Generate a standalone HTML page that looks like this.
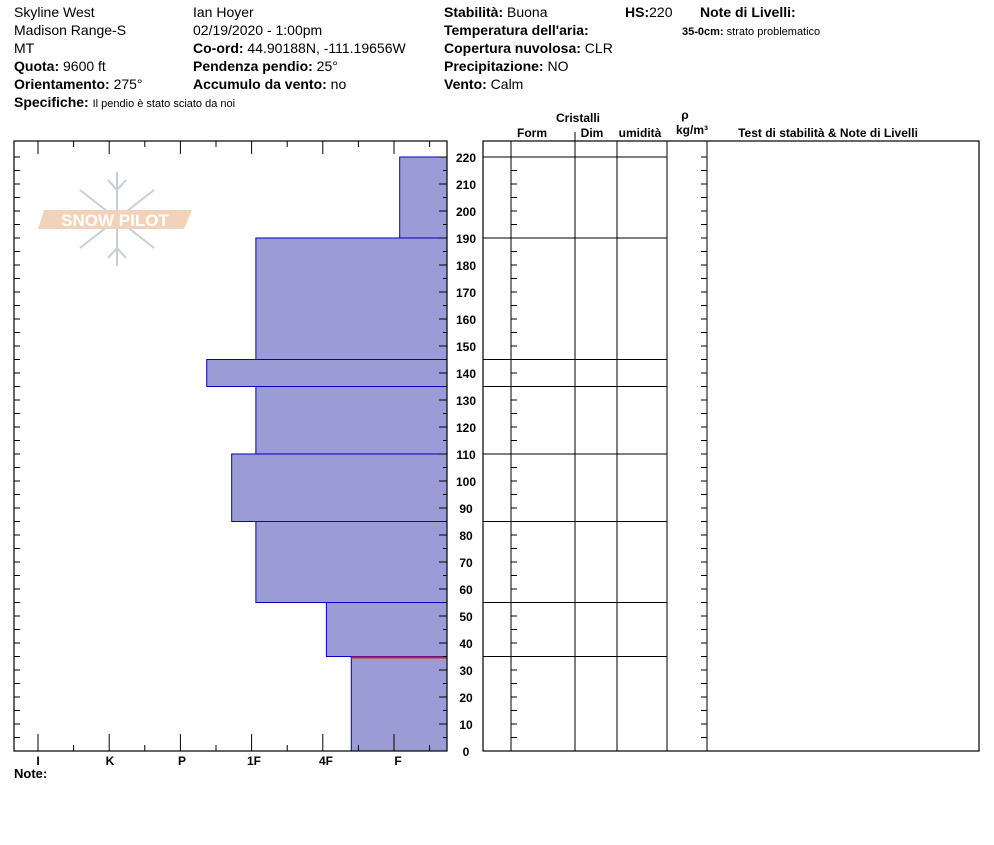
<!DOCTYPE html>
<html><head><meta charset="utf-8"><style>
body{margin:0;background:#fff;width:994px;height:840px;overflow:hidden;font-family:"Liberation Sans",Arial,sans-serif}
svg text{font-family:"Liberation Sans",Arial,sans-serif}
</style></head><body>
<svg id="c" width="994" height="840" viewBox="0 0 994 840">
<g font-size="14" fill="#000">
<text x="14" y="17">Skyline West</text>
<text x="14" y="35">Madison Range-S</text>
<text x="14" y="53">MT</text>
<text x="14" y="71"><tspan font-weight="bold">Quota:</tspan> 9600 ft</text>
<text x="14" y="89"><tspan font-weight="bold">Orientamento:</tspan> 275°</text>
<text x="14" y="107"><tspan font-weight="bold">Specifiche:</tspan> <tspan font-size="11">Il pendio è stato sciato da noi</tspan></text>
<text x="193" y="17">Ian Hoyer</text>
<text x="193" y="35">02/19/2020 - 1:00pm</text>
<text x="193" y="53"><tspan font-weight="bold">Co-ord:</tspan> 44.90188N, -111.19656W</text>
<text x="193" y="71"><tspan font-weight="bold">Pendenza pendio:</tspan> 25°</text>
<text x="193" y="89"><tspan font-weight="bold">Accumulo da vento:</tspan> no</text>
<text x="444" y="17"><tspan font-weight="bold">Stabilità:</tspan> Buona</text>
<text x="444" y="35" font-weight="bold">Temperatura dell'aria:</text>
<text x="444" y="53"><tspan font-weight="bold">Copertura nuvolosa:</tspan> CLR</text>
<text x="444" y="71"><tspan font-weight="bold">Precipitazione:</tspan> NO</text>
<text x="444" y="89"><tspan font-weight="bold">Vento:</tspan>  Calm</text>
<text x="625" y="17"><tspan font-weight="bold">HS:</tspan>220</text>
<text x="700" y="17" font-weight="bold">Note di Livelli:</text>
<text x="682" y="35" font-size="11"><tspan font-weight="bold">35-0cm:</tspan> strato problematico</text>
</g>
<g opacity="0.8">
<g stroke="#b8c4cc" stroke-width="2" fill="none">
<line x1="117" y1="172" x2="117" y2="266"/><line x1="80" y1="190" x2="154" y2="248"/><line x1="154" y1="190" x2="80" y2="248"/>
<polyline points="108,180 117,190 126,180"/><polyline points="108,258 117,248 126,258"/>
</g>
<polygon points="44,210 192,210 184,229 38,229" fill="#f0c8a8"/>
<text x="115" y="226" text-anchor="middle" font-size="17" fill="#fff" font-weight="bold">SNOW PILOT</text>
</g>
<g id="hard"></g>
<g id="tbl"></g>
<g font-size="12" font-weight="bold">
<text x="578" y="122" text-anchor="middle">Cristalli</text>
<text x="532" y="137" text-anchor="middle">Form</text>
<text x="592" y="137" text-anchor="middle">Dim</text>
<text x="640" y="137" text-anchor="middle">umidità</text>
<text x="685" y="119" text-anchor="middle">ρ</text>
<text x="692" y="134" text-anchor="middle">kg/m³</text>
<text x="828" y="137" text-anchor="middle">Test di stabilità &amp; Note di Livelli</text>
</g>
<text x="14" y="778" font-size="13" font-weight="bold">Note:</text>
</svg>
<script>
const layerTops=[220,190,145,135,110,85,55,35];
const layerBottoms=[190,145,135,110,85,55,35,0];
const layerHardness=[0.92,2.94,3.63,2.94,3.28,2.94,1.95,1.6];
const hardLabels=["I","K","P","1F","4F","F"];
const depthTicks=[0,10,20,30,40,50,60,70,80,90,100,110,120,130,140,150,160,170,180,190,200,210,220];
const NS="http://www.w3.org/2000/svg";
const L=14,R=447,T=141,B=751;
const y=v=>751-v*2.7;
const hx=h=>394-(h-1)*71.2;
function mk(p,t,a){const e=document.createElementNS(NS,t);for(const k in a)e.setAttribute(k,a[k]);p.appendChild(e);return e;}
const H=document.getElementById('hard'),TB=document.getElementById('tbl');
for(let i=0;i<layerTops.length;i++){
 const r=mk(H,'rect',{x:hx(layerHardness[i]),y:y(layerTops[i]),width:R-hx(layerHardness[i]),height:y(layerBottoms[i])-y(layerTops[i]),fill:'#9b9bd5',stroke:'#0000c0','stroke-width':1});
 
 
}
const red=mk(H,'line',{x1:hx(layerHardness[7]),x2:R,y1:y(35)+1,y2:y(35)+1,stroke:'#d02020','stroke-width':2});


mk(H,'rect',{x:L,y:T,width:R-L,height:B-T,fill:'none',stroke:'#000','stroke-width':1.2});
for(let v=0;v<=220;v+=5){const yy=y(v),big=v%10==0;
 mk(H,'line',{x1:L,x2:L+6,y1:yy,y2:yy,stroke:'#000'});
 mk(H,'line',{x1:R,x2:R-(big?8:4),y1:yy,y2:yy,stroke:'#000'});
 mk(TB,'line',{x1:511,x2:517,y1:yy,y2:yy,stroke:'#000'});
 mk(TB,'line',{x1:707,x2:701,y1:yy,y2:yy,stroke:'#000'});}
depthTicks.forEach(v=>{const t=mk(H,'text',{x:466,y:y(v)+5,'text-anchor':'middle','font-size':12,'font-weight':'bold'});t.textContent=v;
 
 });
hardLabels.forEach((s,i)=>{const x=38+i*71.2;
 mk(H,'line',{x1:x,x2:x,y1:B,y2:B-17,stroke:'#000'});mk(H,'line',{x1:x,x2:x,y1:T,y2:T+13,stroke:'#000'});
 const xm=x+35.6;if(xm<R){mk(H,'line',{x1:xm,x2:xm,y1:B,y2:B-6,stroke:'#000'});mk(H,'line',{x1:xm,x2:xm,y1:T,y2:T+6,stroke:'#000'});}
 const t=mk(H,'text',{x:38+i*72,y:765,'text-anchor':'middle','font-size':12,'font-weight':'bold'});t.textContent=s;
 
 });
mk(TB,'rect',{x:483,y:T,width:496,height:B-T,fill:'none',stroke:'#000','stroke-width':1.2});
[511,575,617,667,707].forEach(x=>mk(TB,'line',{x1:x,x2:x,y1:x==575?132:T,y2:B,stroke:'#000'}));
layerTops.forEach(v=>{const l=mk(TB,'line',{x1:483,x2:667,y1:y(v),y2:y(v),stroke:'#000'});
 
 });
</script>
</body></html>
